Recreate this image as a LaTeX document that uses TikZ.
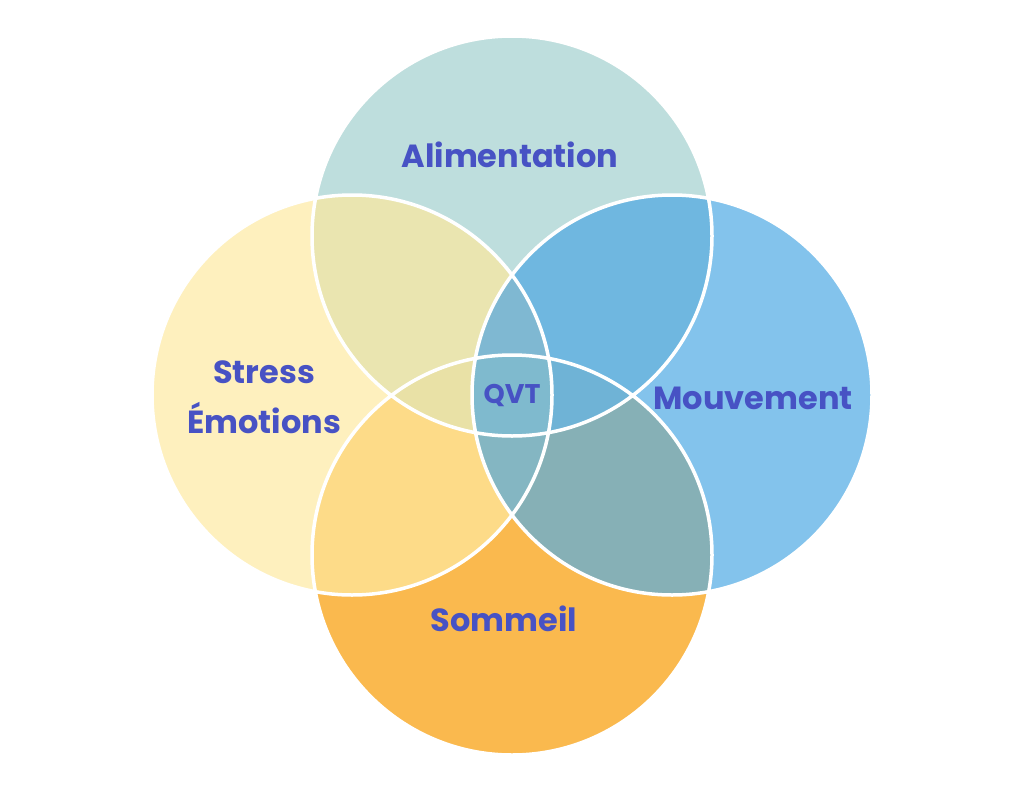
\documentclass[tikz,border=0pt]{standalone}
\usepackage{fontspec}
\setmainfont{Poppins}
\begin{document}
\begin{tikzpicture}[x=1pt,y=-1pt,
  lab/.style={text=labc,font=\bfseries\fontsize{32}{50}\selectfont,align=center}]
\definecolor{labc}{HTML}{4752C4}
\definecolor{cT}{HTML}{BEDEDD}\definecolor{cL}{HTML}{FEF0BE}
\definecolor{cR}{HTML}{83C3EC}\definecolor{cB}{HTML}{FAB94E}
\definecolor{cTL}{HTML}{EAE5B0}\definecolor{cTR}{HTML}{6FB7E0}
\definecolor{cBL}{HTML}{FDDB88}\definecolor{cBR}{HTML}{86B0B6}
\definecolor{cTBL}{HTML}{E9E1A6}\definecolor{cTBR}{HTML}{6FB3D6}
\definecolor{cLRt}{HTML}{7FB8D2}\definecolor{cLRb}{HTML}{84B6C2}\definecolor{cQ}{HTML}{7FBACE}
\useasboundingbox (0,0) rectangle (1024,792);
\fill[white] (0,0) rectangle (1024,792);
\def\T{(512,236) circle (200)}\def\B{(512,555) circle (200)}
\def\L{(352,395) circle (200)}\def\R{(672,395) circle (200)}
\fill[cT] \T; \fill[cL] \L; \fill[cR] \R; \fill[cB] \B;
\begin{scope}\clip \T; \fill[cTL] \L; \fill[cTR] \R; \end{scope}
\begin{scope}\clip \B; \fill[cBL] \L; \fill[cBR] \R; \end{scope}
\begin{scope}\clip \T; \clip \B; \fill[cTBL] \L; \fill[cTBR] \R; \end{scope}
\begin{scope}\clip \L; \clip \R; \fill[cLRt] (400,150) rectangle (620,395); \fill[cLRb] (400,395) rectangle (620,640);
  \clip \T; \fill[cQ] \B; \end{scope}
\draw[white,line width=3.5] \T \L \R \B;
\node[lab] (ali) at (510,155) {Alimentation};
\node[lab] (str) at (264,397) {Stress\\Émotions};
\node[lab] (mou) at (753,398) {Mouvement};
\node[lab] (som) at (504,619) {Sommeil};
\node[text=labc,font=\bfseries\fontsize{27}{30}\selectfont] (q) at (512,396) {QVT};
\end{tikzpicture}
\end{document}
